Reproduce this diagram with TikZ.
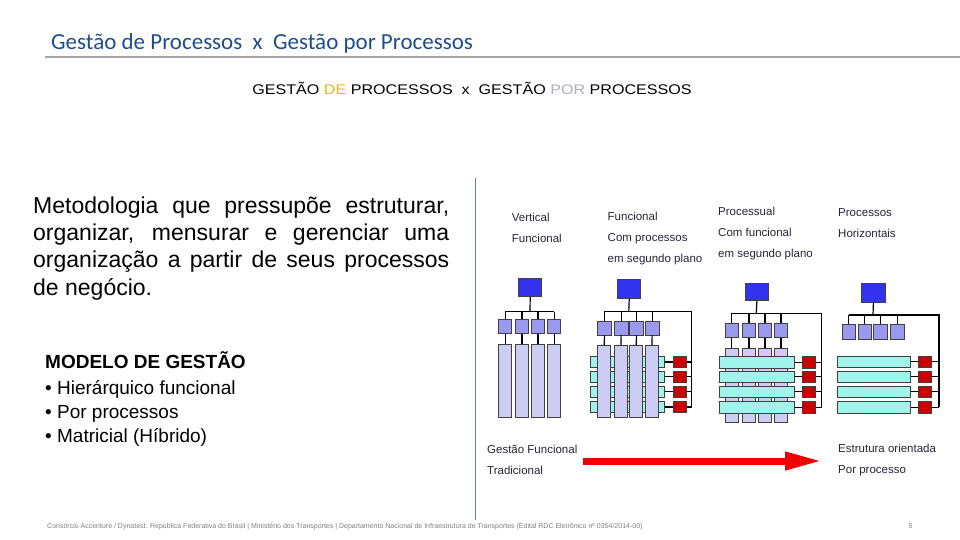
\documentclass[tikz,border=0pt]{standalone}
\usepackage{fontspec}
\setmainfont{Liberation Sans}
\newfontfamily\titlefont{Carlito}
\newfontfamily\widefont[FakeStretch=1.15]{Liberation Sans}
\usetikzlibrary{arrows.meta, positioning}
\definecolor{titleblue}{HTML}{1F4E8C}
\definecolor{rulegray}{HTML}{A6A6A6}
\definecolor{degold}{HTML}{E8B820}
\definecolor{porgray}{HTML}{B4A8C4}
\definecolor{topfill}{HTML}{3333EE}
\definecolor{subfill}{HTML}{9999EE}
\definecolor{barfill}{HTML}{CCCCF4}
\definecolor{procfill}{HTML}{A0F4EC}
\definecolor{redfill}{HTML}{CC0000}
\definecolor{arrowred}{HTML}{F00000}
\definecolor{sepblue}{HTML}{5A80A8}
\definecolor{labelgray}{HTML}{262636}
\definecolor{footgray}{HTML}{7F7F7F}

\begin{document}
\begin{tikzpicture}[x=1pt, y=-1pt,
    box/.style={draw=black!75, line width=0.8pt, anchor=north west, inner sep=0pt, rectangle},
    topbox/.style={box, fill=topfill, minimum width=23pt, minimum height=18pt},
    subbox/.style={box, fill=subfill, minimum width=13pt, minimum height=14pt},
    bar/.style={box, fill=barfill, minimum width=13pt, minimum height=72pt},
    procbox/.style={box, fill=procfill, minimum height=11pt},
    redbox/.style={box, fill=redfill, minimum width=13pt, minimum height=11pt},
    wire/.style={black, line width=1.2pt},
    lbl/.style={anchor=west, align=left, inner sep=0pt, text=labelgray, font=\fontsize{11.5}{21}\selectfont}]
    \fill[white] (0,0) rectangle (960,540);
    \useasboundingbox (0,0) rectangle (960,540);
                % header
                \node[anchor=base west, inner sep=0pt, text=titleblue, font=\titlefont\fontsize{23}{23}\selectfont] (titulo) at (51,49.5) {Gestão de Processos \ x \ Gestão por Processos};
                \coordinate (regraA) at (45,57);
                \coordinate (regraB) at (960,57);
                \draw[rulegray, line width=1.5pt] (regraA) -- (regraB);
                \node[anchor=base, inner sep=0pt, font=\widefont\fontsize{14}{14}\selectfont] (subtitulo) at (472,95) {GESTÃO {\color{degold}DE} PROCESSOS \ x \ GESTÃO {\color{porgray}POR} PROCESSOS};
                % left text
                \node[anchor=north west, inner sep=0pt, text width=416pt, align=justify, font=\fontsize{23}{27.3}\selectfont] (metodo) at (33,196.5) {Metodologia que pressupõe estruturar,\linebreak organizar, mensurar e gerenciar uma\linebreak organização a partir de seus processos\linebreak de negócio.};
                \node[anchor=base west, inner sep=0pt, font=\bfseries\fontsize{19}{19}\selectfont] (modelo) at (45,368.3) {MODELO DE GESTÃO};
                \node[anchor=base west, inner sep=0pt, font=\fontsize{19}{19}\selectfont] (item1) at (45,394) {• Hierárquico funcional};
                \node[anchor=base west, inner sep=0pt, font=\fontsize{19}{19}\selectfont] (item2) at (45,418.2) {• Por processos};
                \node[anchor=base west, inner sep=0pt, font=\fontsize{19}{19}\selectfont] (item3) at (45,442.4) {• Matricial (Híbrido)};
                % separator
                \coordinate (sepA) at (475.5,178);
                \coordinate (sepB) at (475.5,520);
                \draw[sepblue, line width=1pt] (sepA) -- (sepB);
                % captions
                \node[lbl] (vlab) at (511.7,228) {Vertical\\Funcional};
                \node[lbl] (flab) at (607.5,238.5) {Funcional\\Com processos\\em segundo plano};
                \node[lbl] (plab) at (718,233.5) {Processual\\Com funcional\\em segundo plano};
                \node[lbl] (hlab) at (838,223) {Processos\\Horizontais};
                % chart 1: vertical
                \node[topbox] (v0) at (518.3,278.3) {};
                \coordinate (vbus) at (530,311.7);
                \foreach \i/\x in {1/498.3,2/515,3/531,4/547.3} {
                    \node[subbox] (vs\i) at (\x,319.3) {};
                    \node[bar, minimum height=72.7pt] (vb\i) at (\x,344) {};
                    \draw[wire] (vs\i.south) -- (vb\i.north);
                    \draw[wire] (vs\i.north |- vbus) -- (vs\i.north);
                }
                \draw[wire] (v0.south) -- (vbus);
                \draw[wire] (vs1.north |- vbus) -- (vs4.north |- vbus);
                % chart 2: funcional com processos
                \node[topbox, minimum height=19pt] (f0) at (617.3,279.3) {};
                \coordinate (fbus) at (628.8,311.7);
                \coordinate (fcanto) at (691.7,311.7);
                \foreach \j/\y in {1/356,2/370.7,3/385.7,4/401} {
                    \node[procbox, minimum width=74.5pt] (fp\j) at (589.5,\y) {};
                    \node[redbox] (fr\j) at (672.7,\y) {};
                    \draw[wire] (fp\j.east) -- (fr\j.west);
                    \draw[wire] (fr\j.east) -- (fr\j.east -| fcanto);
                }
                \foreach \i/\x in {1/597.3,2/614,3/629.3,4/645} {
                    \node[subbox, minimum width=13.5pt] (fs\i) at (\x,320.7) {};
                    \node[bar, minimum height=71.7pt] (fb\i) at (\x,345) {};
                    \draw[wire] (fs\i.south) -- (fb\i.north);
                    \draw[wire] (fs\i.north |- fbus) -- (fs\i.north);
                }
                \draw[wire] (f0.south) -- (fbus);
                \draw[wire] (fs1.north |- fbus) -- (fcanto) -- (fcanto |- fr4.east);
                % chart 3: processual com funcional
                \node[topbox, minimum height=17.3pt] (p0) at (745,282.7) {};
                \coordinate (pbus) at (756.3,313.3);
                \coordinate (pcanto) at (821.7,313.3);
                \foreach \i/\x in {1/725,2/742.3,3/758.3,4/774.3} {
                    \node[subbox, minimum width=12.5pt] (ps\i) at (\x,322.7) {};
                    \node[bar, minimum width=12.5pt, minimum height=73.7pt] (pb\i) at (\x,348) {};
                    \draw[wire] (ps\i.south) -- (pb\i.north);
                    \draw[wire] (ps\i.north |- pbus) -- (ps\i.north);
                }
                \foreach \j/\y in {1/356,2/370.7,3/385.7,4/401} {
                    \node[procbox, minimum width=75pt, minimum height=11.5pt] (pp\j) at (719.3,\y) {};
                    \node[redbox, minimum width=13.3pt, minimum height=11.5pt] (pr\j) at (801.7,\y) {};
                    \draw[wire] (pp\j.east) -- (pr\j.west);
                    \draw[wire] (pr\j.east) -- (pr\j.east -| pcanto);
                }
                \draw[wire] (p0.south) -- (pbus);
                \draw[wire] (ps1.north |- pbus) -- (pcanto) -- (pcanto |- pr4.east);
                % chart 4: processos horizontais
                \node[topbox, minimum width=24pt, minimum height=18.4pt] (h0) at (861,283.3) {};
                \coordinate (hbus) at (873,315);
                \coordinate (hcanto) at (939,315);
                \foreach \i/\x in {1/841.7,2/857.7,3/873.3,4/890} {
                    \node[subbox, minimum width=13.5pt, minimum height=14.7pt] (hs\i) at (\x,324.3) {};
                    \draw[wire] (hs\i.north |- hbus) -- (hs\i.north);
                }
                \foreach \j/\y in {1/355.7,2/370.7,3/385.7,4/401} {
                    \node[procbox, minimum width=73.3pt, minimum height=11.5pt] (hp\j) at (836.7,\y) {};
                    \node[redbox, minimum width=13.3pt, minimum height=11.5pt] (hr\j) at (917.7,\y) {};
                    \draw[wire] (hp\j.east) -- (hr\j.west);
                    \draw[wire] (hr\j.east) -- (hr\j.east -| hcanto);
                }
                \draw[wire] (h0.south) -- (hbus);
                \draw[wire] (hs1.north |- hbus) -- (hcanto) -- (hcanto |- hr4.east);
                % bottom arrow
                \node[lbl] (glab) at (487,460) {Gestão Funcional\\Tradicional};
                \node[lbl] (elab) at (838,460) {Estrutura orientada\\Por processo};
                \coordinate (setaA) at (582.7,461);
                \coordinate (setaB) at (822,461);
                \draw[arrowred, line width=7pt, -{Triangle[length=37pt, width=17pt]}] (setaA) -- (setaB);
                % footer
                \node[anchor=base west, inner sep=0pt, text=footgray, font=\fontsize{7}{7}\selectfont] (rodape) at (47,528.5) {Consórcio Accenture / Dynatest. República Federativa do Brasil | Ministério dos Transportes | Departamento Nacional de Infraestrutura de Transportes (Edital RDC Eletrônico nº 0354/2014-00)};
                \node[anchor=base west, inner sep=0pt, text=footgray, font=\fontsize{7}{7}\selectfont] (pagina) at (908.5,528.5) {5};
            \end{tikzpicture}
\end{document}
